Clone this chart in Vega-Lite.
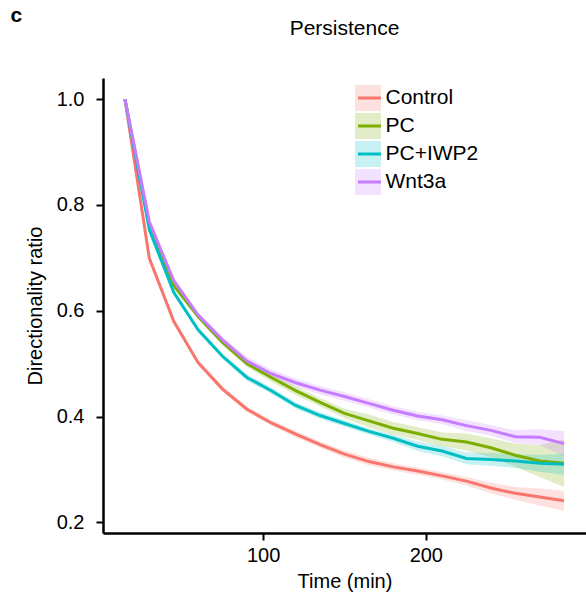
{
  "$schema": "https://vega.github.io/schema/vega-lite/v6.json",
  "width": 483,
  "height": 455,
  "autosize": {"type": "none"},
  "padding": {"left": 103, "top": 78, "right": 0, "bottom": 62},
  "background": "white",
  "title": {"text": "Persistence", "anchor": "middle", "frame": "group", "offset": 0, "dy": 35, "fontSize": 21, "font": "Liberation Sans", "fontWeight": "normal", "color": "black"},
  "config": {
    "view": {"stroke": null},
    "axis": {"grid": false, "domainColor": "black", "domainWidth": 2.5, "tickColor": "black", "tickWidth": 2, "tickSize": 7, "labelFont": "Liberation Sans", "labelFontSize": 20, "labelColor": "black", "titleFont": "Liberation Sans", "titleFontSize": 20, "titleFontWeight": "normal", "titleColor": "black"}
  },
  "data": {"values": [
    {"group": "Control", "t": 15, "mean": 1.0, "lo": 1.0, "hi": 1.0},
    {"group": "Control", "t": 30, "mean": 0.699, "lo": 0.695, "hi": 0.703},
    {"group": "Control", "t": 45, "mean": 0.580, "lo": 0.575, "hi": 0.585},
    {"group": "Control", "t": 60, "mean": 0.502, "lo": 0.497, "hi": 0.507},
    {"group": "Control", "t": 75, "mean": 0.452, "lo": 0.447, "hi": 0.457},
    {"group": "Control", "t": 90, "mean": 0.414, "lo": 0.409, "hi": 0.419},
    {"group": "Control", "t": 105, "mean": 0.388, "lo": 0.383, "hi": 0.393},
    {"group": "Control", "t": 120, "mean": 0.367, "lo": 0.361, "hi": 0.373},
    {"group": "Control", "t": 135, "mean": 0.347, "lo": 0.341, "hi": 0.353},
    {"group": "Control", "t": 150, "mean": 0.329, "lo": 0.322, "hi": 0.336},
    {"group": "Control", "t": 165, "mean": 0.315, "lo": 0.308, "hi": 0.322},
    {"group": "Control", "t": 180, "mean": 0.305, "lo": 0.298, "hi": 0.312},
    {"group": "Control", "t": 195, "mean": 0.297, "lo": 0.290, "hi": 0.304},
    {"group": "Control", "t": 210, "mean": 0.288, "lo": 0.281, "hi": 0.295},
    {"group": "Control", "t": 225, "mean": 0.278, "lo": 0.270, "hi": 0.286},
    {"group": "Control", "t": 240, "mean": 0.265, "lo": 0.255, "hi": 0.275},
    {"group": "Control", "t": 255, "mean": 0.255, "lo": 0.243, "hi": 0.267},
    {"group": "Control", "t": 270, "mean": 0.248, "lo": 0.232, "hi": 0.264},
    {"group": "Control", "t": 285, "mean": 0.241, "lo": 0.222, "hi": 0.260},
    {"group": "PC", "t": 15, "mean": 1.0, "lo": 1.0, "hi": 1.0},
    {"group": "PC", "t": 30, "mean": 0.762, "lo": 0.757, "hi": 0.767},
    {"group": "PC", "t": 45, "mean": 0.648, "lo": 0.643, "hi": 0.653},
    {"group": "PC", "t": 60, "mean": 0.589, "lo": 0.584, "hi": 0.594},
    {"group": "PC", "t": 75, "mean": 0.540, "lo": 0.535, "hi": 0.545},
    {"group": "PC", "t": 90, "mean": 0.500, "lo": 0.494, "hi": 0.506},
    {"group": "PC", "t": 105, "mean": 0.474, "lo": 0.466, "hi": 0.482},
    {"group": "PC", "t": 120, "mean": 0.449, "lo": 0.441, "hi": 0.457},
    {"group": "PC", "t": 135, "mean": 0.427, "lo": 0.419, "hi": 0.435},
    {"group": "PC", "t": 150, "mean": 0.406, "lo": 0.397, "hi": 0.415},
    {"group": "PC", "t": 165, "mean": 0.392, "lo": 0.380, "hi": 0.404},
    {"group": "PC", "t": 180, "mean": 0.378, "lo": 0.366, "hi": 0.390},
    {"group": "PC", "t": 195, "mean": 0.368, "lo": 0.356, "hi": 0.380},
    {"group": "PC", "t": 210, "mean": 0.357, "lo": 0.344, "hi": 0.370},
    {"group": "PC", "t": 225, "mean": 0.352, "lo": 0.336, "hi": 0.368},
    {"group": "PC", "t": 240, "mean": 0.341, "lo": 0.323, "hi": 0.359},
    {"group": "PC", "t": 255, "mean": 0.327, "lo": 0.305, "hi": 0.349},
    {"group": "PC", "t": 270, "mean": 0.316, "lo": 0.286, "hi": 0.346},
    {"group": "PC", "t": 285, "mean": 0.312, "lo": 0.267, "hi": 0.357},
    {"group": "PC+IWP2", "t": 15, "mean": 1.0, "lo": 1.0, "hi": 1.0},
    {"group": "PC+IWP2", "t": 30, "mean": 0.753, "lo": 0.749, "hi": 0.757},
    {"group": "PC+IWP2", "t": 45, "mean": 0.635, "lo": 0.631, "hi": 0.639},
    {"group": "PC+IWP2", "t": 60, "mean": 0.564, "lo": 0.560, "hi": 0.568},
    {"group": "PC+IWP2", "t": 75, "mean": 0.514, "lo": 0.509, "hi": 0.519},
    {"group": "PC+IWP2", "t": 90, "mean": 0.474, "lo": 0.468, "hi": 0.480},
    {"group": "PC+IWP2", "t": 105, "mean": 0.449, "lo": 0.443, "hi": 0.455},
    {"group": "PC+IWP2", "t": 120, "mean": 0.421, "lo": 0.415, "hi": 0.427},
    {"group": "PC+IWP2", "t": 135, "mean": 0.402, "lo": 0.396, "hi": 0.408},
    {"group": "PC+IWP2", "t": 150, "mean": 0.387, "lo": 0.381, "hi": 0.393},
    {"group": "PC+IWP2", "t": 165, "mean": 0.372, "lo": 0.366, "hi": 0.378},
    {"group": "PC+IWP2", "t": 180, "mean": 0.359, "lo": 0.352, "hi": 0.366},
    {"group": "PC+IWP2", "t": 195, "mean": 0.344, "lo": 0.335, "hi": 0.353},
    {"group": "PC+IWP2", "t": 210, "mean": 0.335, "lo": 0.325, "hi": 0.345},
    {"group": "PC+IWP2", "t": 225, "mean": 0.321, "lo": 0.310, "hi": 0.332},
    {"group": "PC+IWP2", "t": 240, "mean": 0.319, "lo": 0.307, "hi": 0.331},
    {"group": "PC+IWP2", "t": 255, "mean": 0.316, "lo": 0.303, "hi": 0.329},
    {"group": "PC+IWP2", "t": 270, "mean": 0.312, "lo": 0.296, "hi": 0.328},
    {"group": "PC+IWP2", "t": 285, "mean": 0.310, "lo": 0.290, "hi": 0.330},
    {"group": "Wnt3a", "t": 15, "mean": 1.0, "lo": 1.0, "hi": 1.0},
    {"group": "Wnt3a", "t": 30, "mean": 0.768, "lo": 0.763, "hi": 0.773},
    {"group": "Wnt3a", "t": 45, "mean": 0.657, "lo": 0.652, "hi": 0.662},
    {"group": "Wnt3a", "t": 60, "mean": 0.592, "lo": 0.587, "hi": 0.597},
    {"group": "Wnt3a", "t": 75, "mean": 0.545, "lo": 0.540, "hi": 0.550},
    {"group": "Wnt3a", "t": 90, "mean": 0.505, "lo": 0.497, "hi": 0.513},
    {"group": "Wnt3a", "t": 105, "mean": 0.481, "lo": 0.473, "hi": 0.489},
    {"group": "Wnt3a", "t": 120, "mean": 0.464, "lo": 0.456, "hi": 0.472},
    {"group": "Wnt3a", "t": 135, "mean": 0.450, "lo": 0.442, "hi": 0.458},
    {"group": "Wnt3a", "t": 150, "mean": 0.438, "lo": 0.430, "hi": 0.446},
    {"group": "Wnt3a", "t": 165, "mean": 0.425, "lo": 0.417, "hi": 0.433},
    {"group": "Wnt3a", "t": 180, "mean": 0.412, "lo": 0.404, "hi": 0.420},
    {"group": "Wnt3a", "t": 195, "mean": 0.401, "lo": 0.393, "hi": 0.409},
    {"group": "Wnt3a", "t": 210, "mean": 0.394, "lo": 0.386, "hi": 0.402},
    {"group": "Wnt3a", "t": 225, "mean": 0.383, "lo": 0.373, "hi": 0.393},
    {"group": "Wnt3a", "t": 240, "mean": 0.374, "lo": 0.364, "hi": 0.384},
    {"group": "Wnt3a", "t": 255, "mean": 0.362, "lo": 0.350, "hi": 0.374},
    {"group": "Wnt3a", "t": 270, "mean": 0.361, "lo": 0.346, "hi": 0.376},
    {"group": "Wnt3a", "t": 285, "mean": 0.349, "lo": 0.325, "hi": 0.373}
  ]},
  "resolve": {"axis": {"x": "independent"}},
  "layer": [
    {
      "mark": {"type": "area", "opacity": 0.22, "strokeWidth": 0},
      "encoding": {
        "x": {"field": "t", "type": "quantitative", "scale": {"domain": [1.5, 298.5], "nice": false, "zero": false},
              "axis": {"orient": "top", "domain": false, "ticks": false, "labels": false, "title": "c", "titleFontWeight": "bold", "titleFontSize": 21, "titleAnchor": "start", "titleAlign": "left", "titleX": -93, "titleY": -53}},
        "y": {"field": "lo", "type": "quantitative", "scale": {"domain": [0.18, 1.04], "nice": false, "zero": false}},
        "y2": {"field": "hi"},
        "fill": {"field": "group", "type": "nominal",
                 "scale": {"domain": ["Control", "PC", "PC+IWP2", "Wnt3a", "zz"], "range": ["#F8766D", "#7CAE00", "#00BFC4", "#C77CFF", "#ffffff"]},
                 "legend": {"orient": "none", "legendX": 252, "legendY": 7, "title": null, "values": ["Control", "PC", "PC+IWP2", "Wnt3a"], "symbolType": "square", "symbolSize": 676, "symbolOpacity": 0.22, "symbolStrokeWidth": 0, "labelExpr": "''", "labelFontSize": 21, "labelFont": "Liberation Sans", "clipHeight": 26, "rowPadding": 2, "labelOffset": 5}}
      }
    },
    {
      "mark": {"type": "line", "strokeWidth": 3},
      "encoding": {
        "x": {"field": "t", "type": "quantitative",
              "axis": {"values": [100, 200], "title": "Time (min)", "labelPadding": 5, "titlePadding": 6}},
        "y": {"field": "mean", "type": "quantitative",
              "axis": {"values": [0.2, 0.4, 0.6, 0.8, 1.0], "format": ".1f", "title": "Directionality ratio", "labelPadding": 12, "titlePadding": 11}},
        "stroke": {"field": "group", "type": "nominal",
                   "scale": {"domain": ["Control", "PC", "PC+IWP2", "Wnt3a"], "range": ["#F8766D", "#7CAE00", "#00BFC4", "#C77CFF"]},
                   "legend": {"orient": "none", "legendX": 253.5, "legendY": 7, "title": null, "symbolType": "stroke", "symbolSize": 529, "symbolStrokeWidth": 3, "labelFontSize": 21, "labelFont": "Liberation Sans", "labelColor": "black", "clipHeight": 26, "rowPadding": 2, "labelOffset": 3}}
      }
    }
  ]
}
